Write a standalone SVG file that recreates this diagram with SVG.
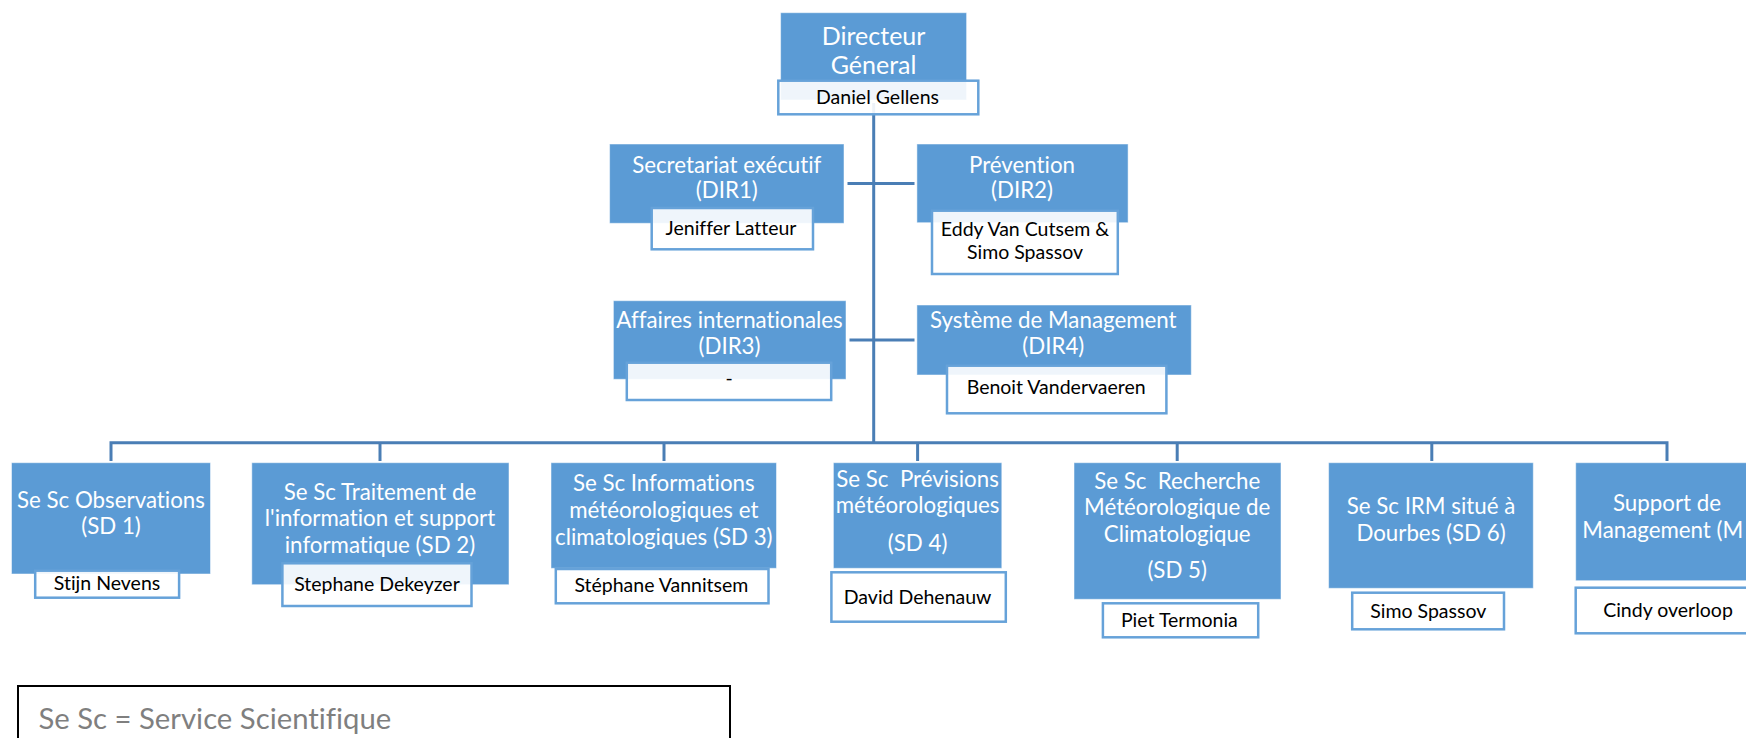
<svg xmlns="http://www.w3.org/2000/svg" width="1746" height="738" viewBox="0 0 1746 738">
<style>
text{font-variant-ligatures:none;font-feature-settings:"liga" 0,"clig" 0}
.bx{fill:#5B9BD5;stroke:#ffffff;stroke-opacity:0.5;stroke-width:1}
.nm{fill:#ffffff;fill-opacity:0.9;stroke:#66A2D9;stroke-width:2.5}
.t{font-family:Lato,"Open Sans","Liberation Sans",sans-serif;font-size:22.3px;fill:#ffffff;text-anchor:middle}
.dg{font-size:25px}
.n{font-family:Lato,"Open Sans","Liberation Sans",sans-serif;font-size:19.5px;fill:#000000;text-anchor:middle}
.c{stroke:#4A7EB5;stroke-width:3;fill:none}
.lg{font-family:Lato,"Open Sans","Liberation Sans",sans-serif;font-size:29.3px;fill:#7F7F7F}
</style>
<rect width="1746" height="738" fill="#ffffff"/>
<g id="connectors">
<line class="c" x1="873.7" y1="103" x2="873.7" y2="443" stroke-width="4"/>
<line class="c" x1="847.5" y1="183.5" x2="914.5" y2="183.5"/>
<line class="c" x1="849.5" y1="340" x2="914.5" y2="340"/>
<polyline class="c" points="111,461 111,442.7 1667,442.7 1667,461"/>
<line class="c" x1="380" y1="442.7" x2="380" y2="461"/>
<line class="c" x1="664" y1="442.7" x2="664" y2="461"/>
<line class="c" x1="917.6" y1="442.7" x2="917.6" y2="461"/>
<line class="c" x1="1177.2" y1="442.7" x2="1177.2" y2="461"/>
<line class="c" x1="1431.8" y1="442.7" x2="1431.8" y2="461"/>
</g>
<g id="dg">
<rect class="bx" x="780.6" y="12.7" width="186" height="87.3"/>
<text class="t dg" x="873.6" y="45">Directeur</text>
<text class="t dg" x="873.6" y="74">Géneral</text>
<rect class="nm" x="778.3" y="80.7" width="200" height="33.6"/>
<text class="n" x="877.5" y="104.3">Daniel Gellens</text>
</g>
<g id="dir1">
<rect class="bx" x="609.6" y="144" width="234.4" height="79.3"/>
<text class="t" x="726.8" y="172.7">Secretariat exécutif</text>
<text class="t" x="726.8" y="198.4">(DIR1)</text>
<rect class="nm" x="651.7" y="208" width="161.3" height="41.3"/>
<text class="n" x="731" y="235">Jeniffer Latteur</text>
</g>
<g id="dir2">
<rect class="bx" x="916.9" y="144" width="211.2" height="78.7"/>
<text class="t" x="1022" y="172.7">Prévention</text>
<text class="t" x="1022" y="198.4">(DIR2)</text>
<rect class="nm" x="932" y="210.7" width="185.8" height="63.3"/>
<text class="n" x="1025" y="235.7">Eddy Van Cutsem &amp;</text>
<text class="n" x="1025" y="259.3">Simo Spassov</text>
</g>
<g id="dir3">
<rect class="bx" x="613.4" y="300.7" width="232.6" height="78.6"/>
<text class="t" x="729.5" y="328.3">Affaires internationales</text>
<text class="t" x="729.5" y="354">(DIR3)</text>
<rect class="nm" x="626.8" y="362.7" width="204.4" height="37.3"/>
<text class="n" x="729" y="384.5">-</text>
</g>
<g id="dir4">
<rect class="bx" x="916.9" y="305" width="274.4" height="70"/>
<text class="t" x="1053.3" y="328.3">Système de Management</text>
<text class="t" x="1053.3" y="354">(DIR4)</text>
<rect class="nm" x="947" y="365.7" width="219.4" height="47.6"/>
<text class="n" x="1056.2" y="394">Benoit Vandervaeren</text>
</g>
<g id="sd1">
<rect class="bx" x="11.5" y="462.7" width="199" height="111.3"/>
<text class="t" x="111" y="508">Se Sc Observations</text>
<text class="t" x="111" y="534">(SD 1)</text>
<rect class="nm" x="35.2" y="570.7" width="143.9" height="27"/>
<text class="n" x="107" y="590.3">Stijn Nevens</text>
</g>
<g id="sd2">
<rect class="bx" x="251.8" y="462.7" width="257.2" height="122"/>
<text class="t" x="380" y="499.7">Se Sc Traitement de</text>
<text class="t" x="380" y="526.3">l'information et support</text>
<text class="t" x="380" y="553">informatique (SD 2)</text>
<rect class="nm" x="282.4" y="563.3" width="189.1" height="42.7"/>
<text class="n" x="377" y="591">Stephane Dekeyzer</text>
</g>
<g id="sd3">
<rect class="bx" x="551" y="462.7" width="225.5" height="105.6"/>
<text class="t" x="663.8" y="491.3">Se Sc Informations</text>
<text class="t" x="663.8" y="518">météorologiques et</text>
<text class="t" x="663.8" y="544.7">climatologiques (SD 3)</text>
<rect class="nm" x="555.8" y="569" width="212.7" height="34.3"/>
<text class="n" x="661.4" y="592">Stéphane Vannitsem</text>
</g>
<g id="sd4">
<rect class="bx" x="833.4" y="462.7" width="168.4" height="105.6"/>
<text class="t" x="917.6" y="487.3" xml:space="preserve">Se Sc  Prévisions</text>
<text class="t" x="917.6" y="513">météorologiques</text>
<text class="t" x="917.6" y="550.7">(SD 4)</text>
<rect class="nm" x="831.4" y="572.3" width="174.4" height="49.4"/>
<text class="n" x="917.6" y="603.7">David Dehenauw</text>
</g>
<g id="sd5">
<rect class="bx" x="1074" y="462.7" width="207" height="136.6"/>
<text class="t" x="1177.2" y="489" xml:space="preserve">Se Sc  Recherche</text>
<text class="t" x="1177.2" y="515.3">Météorologique de</text>
<text class="t" x="1177.2" y="542">Climatologique</text>
<text class="t" x="1177.2" y="578">(SD 5)</text>
<rect class="nm" x="1102.9" y="603.3" width="155.3" height="34"/>
<text class="n" x="1179.4" y="627">Piet Termonia</text>
</g>
<g id="sd6">
<rect class="bx" x="1328.6" y="462.7" width="204.7" height="125.6"/>
<text class="t" x="1431" y="514">Se Sc IRM situé à</text>
<text class="t" x="1431" y="541.3">Dourbes (SD 6)</text>
<rect class="nm" x="1352.2" y="592.7" width="151.8" height="36.6"/>
<text class="n" x="1428.3" y="617.7">Simo Spassov</text>
</g>
<g id="sd7">
<rect class="bx" x="1575.7" y="462.7" width="180" height="118"/>
<text class="t" x="1667" y="511.3">Support de</text>
<text class="t" x="1582.3" y="538" style="text-anchor:start">Management (M</text>
<rect class="nm" x="1575.7" y="587.7" width="180" height="45.6"/>
<text class="n" x="1668" y="617">Cindy overloop</text>
</g>
<g id="legend">
<rect x="18" y="686" width="712" height="80" fill="none" stroke="#000000" stroke-width="2"/>
<text class="lg" x="38.5" y="728.5">Se Sc = Service Scientifique</text>
</g>
</svg>
